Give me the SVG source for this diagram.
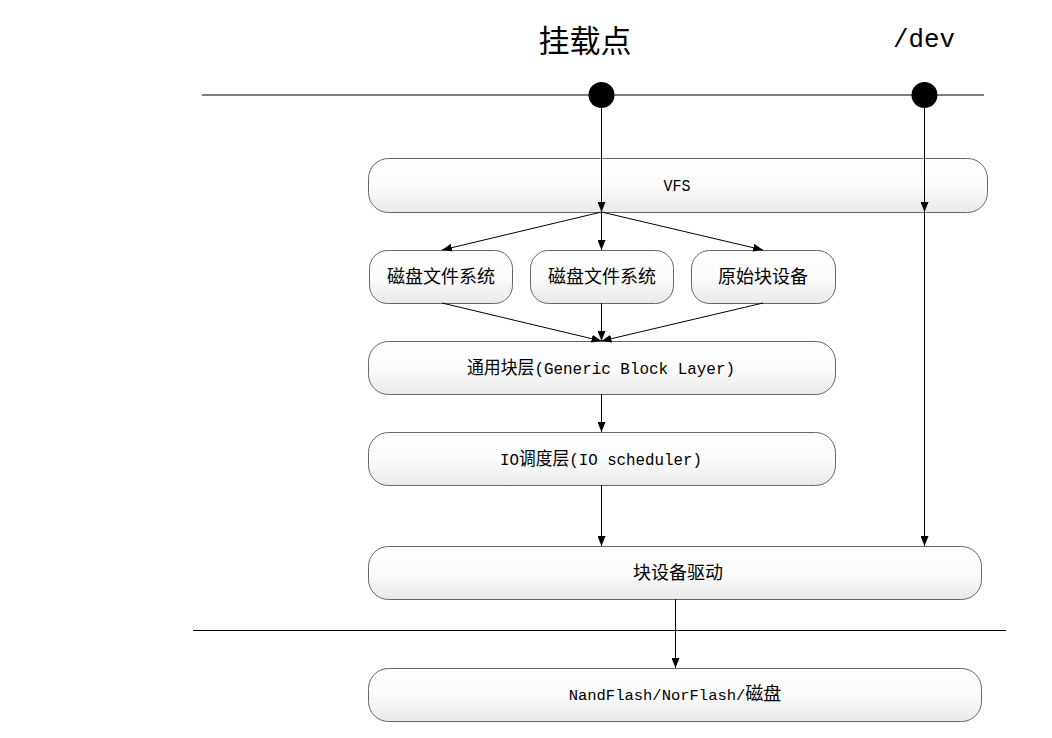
<svg xmlns="http://www.w3.org/2000/svg" width="1052" height="738" viewBox="0 0 1052 738">
<style>
.box{fill:url(#g);stroke:#666;stroke-width:1}
.t{font-family:"Liberation Mono","Noto Sans CJK SC",monospace;font-size:17px;fill:#000;text-anchor:middle}
.c{font-family:"Noto Sans CJK SC","Noto Sans CJK JP",sans-serif;font-size:18px}
.ln{stroke:#000;stroke-width:1;fill:none}
.ar{stroke:#000;stroke-width:1;fill:none;marker-end:url(#a)}
</style>
<defs>
<linearGradient id="g" x1="0" y1="0" x2="0" y2="1">
<stop offset="0" stop-color="#ffffff"/>
<stop offset="0.5" stop-color="#fbfbfb"/>
<stop offset="1" stop-color="#e9e9e9"/>
</linearGradient>
<marker id="a" viewBox="0 0 10 8" refX="10" refY="4" markerWidth="10" markerHeight="8" markerUnits="userSpaceOnUse" orient="auto">
<path d="M0,0 L10,4 L0,8 Z" fill="#000"/>
</marker>
</defs>
<rect width="1052" height="738" fill="#fff"/>

<g id="labels">
<text x="585" y="52" font-family="Noto Sans CJK SC, sans-serif" font-size="31" text-anchor="middle">挂载点</text>
<text x="924" y="47" font-family="Liberation Mono, monospace" font-size="26" text-anchor="middle" textLength="62" lengthAdjust="spacingAndGlyphs">/dev</text>
</g>

<g id="rules">
<line class="ln" x1="202" y1="95" x2="984" y2="95"/>
<line class="ln" x1="193" y1="630.5" x2="1006" y2="630.5"/>
</g>

<g id="vfs">
<rect class="box" x="368.5" y="158.5" width="619" height="54" rx="20"/>
<text class="t" x="677" y="191" textLength="27" lengthAdjust="spacingAndGlyphs">VFS</text>
</g>
<g id="fs1">
<rect class="box" x="369.5" y="250.5" width="143" height="53" rx="18"/>
<text class="t" x="441" y="283"><tspan class="c">磁盘文件系统</tspan></text>
</g>
<g id="fs2">
<rect class="box" x="530.5" y="250.5" width="143" height="53" rx="18"/>
<text class="t" x="602" y="283"><tspan class="c">磁盘文件系统</tspan></text>
</g>
<g id="raw">
<rect class="box" x="691.5" y="250.5" width="144" height="53" rx="18"/>
<text class="t" x="763" y="283"><tspan class="c">原始块设备</tspan></text>
</g>
<g id="gbl">
<rect class="box" x="368.5" y="341.5" width="467" height="53" rx="20"/>
<text class="t" x="601" y="374" textLength="268" lengthAdjust="spacingAndGlyphs"><tspan class="c">通用块层</tspan>(Generic Block Layer)</text>
</g>
<g id="ios">
<rect class="box" x="368.5" y="432.5" width="467" height="53" rx="20"/>
<text class="t" x="601" y="465" textLength="202" lengthAdjust="spacingAndGlyphs">IO<tspan class="c">调度层</tspan>(IO scheduler)</text>
</g>
<g id="drv">
<rect class="box" x="368.5" y="546.5" width="613" height="53" rx="20"/>
<text class="t" x="678" y="579"><tspan class="c">块设备驱动</tspan></text>
</g>
<g id="hw">
<rect class="box" x="368.5" y="668.5" width="613" height="53" rx="20"/>
<text class="t" x="675" y="700" style="font-size:15.5px">NandFlash/NorFlash/<tspan class="c">磁盘</tspan></text>
</g>

<g id="connectors">
<line class="ar" x1="601.5" y1="95" x2="601.5" y2="212"/>
<line class="ar" x1="924.5" y1="95" x2="924.5" y2="212"/>
<line class="ar" x1="924.5" y1="212" x2="924.5" y2="546"/>
<line class="ar" x1="601.5" y1="212" x2="442" y2="250"/>
<line class="ar" x1="601.5" y1="212" x2="601.5" y2="250"/>
<line class="ar" x1="601.5" y1="212" x2="763" y2="250"/>
<line class="ar" x1="442" y1="303" x2="601.5" y2="341"/>
<line class="ar" x1="601.5" y1="303" x2="601.5" y2="341"/>
<line class="ar" x1="763" y1="303" x2="601.5" y2="341"/>
<line class="ar" x1="601.5" y1="394" x2="601.5" y2="432"/>
<line class="ar" x1="601.5" y1="485" x2="601.5" y2="546"/>
<line class="ar" x1="675.5" y1="599" x2="675.5" y2="668"/>
</g>

<g id="dots">
<circle cx="601.5" cy="95" r="13" fill="#000"/>
<circle cx="924.5" cy="95" r="13" fill="#000"/>
</g>
</svg>
